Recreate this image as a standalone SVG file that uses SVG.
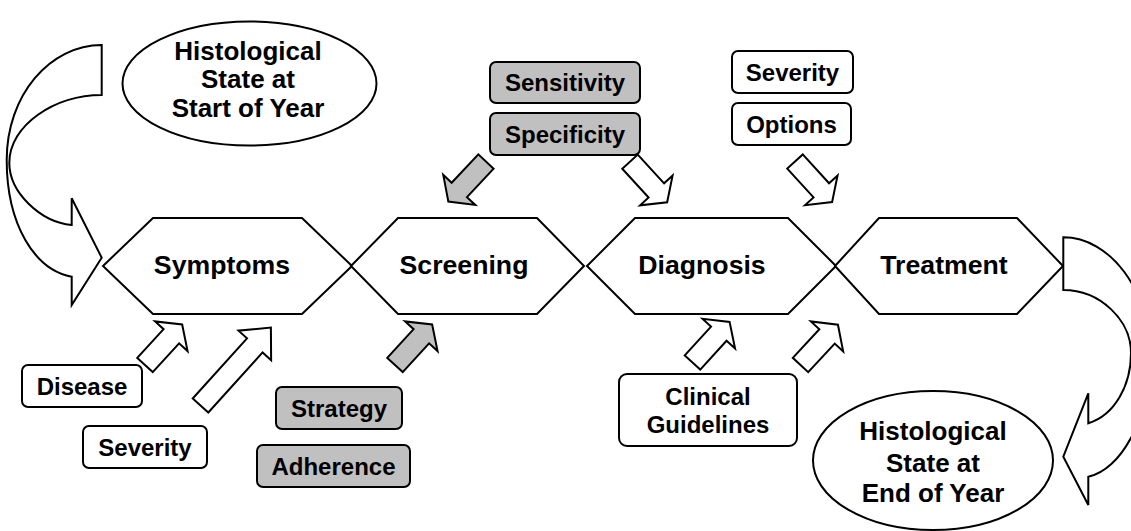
<svg xmlns="http://www.w3.org/2000/svg" xmlns:xlink="http://www.w3.org/1999/xlink" width="1131" height="531" viewBox="0 0 1131 531">
<style>
.ln{stroke:#000;stroke-width:2;stroke-linejoin:miter;}
.w{fill:#fff;}
.g{fill:#c0c0c0;}
.box{stroke:#000;stroke-width:2;}
.t{font-family:"Liberation Sans",Arial,sans-serif;font-weight:bold;text-anchor:middle;fill:#000;}
.s{font-size:24px;}
.b{font-size:26.67px;}
.e{font-size:26px;}
</style>
<defs>
<polygon id="ba" points="0,-10.5 39,-10.5 39,-22 55,0 39,22 39,10.5 0,10.5"/>
</defs>
<rect x="0" y="0" width="1131" height="531" fill="#fff"/>

<g id="hex-symptoms">
<polygon class="ln w" points="103,266 153,218 302,218 352,266 302,314 153,314"/>
<text class="t b" x="222" y="274">Symptoms</text>
</g>
<g id="hex-screening">
<polygon class="ln w" points="351,266 398,218 537,218 584,266 537,314 398,314"/>
<text class="t b" x="464" y="274">Screening</text>
</g>
<g id="hex-diagnosis">
<polygon class="ln w" points="587,266 635,218 788,218 836,266 788,314 635,314"/>
<text class="t b" x="702" y="274">Diagnosis</text>
</g>
<g id="hex-treatment">
<polygon class="ln w" points="835,266 879,218 1017,218 1063,266 1017,314 879,314"/>
<text class="t b" x="944" y="274">Treatment</text>
</g>

<g id="start-state">
<ellipse class="ln w" cx="249.5" cy="83.5" rx="127" ry="62"/>
<text class="t e" x="248" y="59.5">Histological</text>
<text class="t e" x="248" y="88">State at</text>
<text class="t e" x="248" y="116.5">Start of Year</text>
</g>
<g id="end-state">
<ellipse class="ln w" cx="933" cy="460.5" rx="120" ry="69.5"/>
<text class="t e" x="933" y="440">Histological</text>
<text class="t e" x="933" y="471.5">State at</text>
<text class="t e" x="933" y="502">End of Year</text>
</g>

<g id="sensitivity">
<rect class="box g" x="490" y="62" width="150" height="41" rx="6"/>
<text class="t s" x="565" y="91">Sensitivity</text>
</g>
<g id="specificity">
<rect class="box g" x="490" y="113" width="150" height="42" rx="6"/>
<text class="t s" x="565" y="142.5">Specificity</text>
</g>
<g id="severity-top">
<rect class="box w" x="732" y="51" width="121" height="42" rx="6"/>
<text class="t s" x="792.5" y="80.5">Severity</text>
</g>
<g id="options">
<rect class="box w" x="732" y="103" width="119" height="42" rx="6"/>
<text class="t s" x="791.5" y="132.5">Options</text>
</g>
<g id="disease">
<rect class="box w" x="22" y="365" width="120" height="42" rx="6"/>
<text class="t s" x="82" y="394.5">Disease</text>
</g>
<g id="severity-bottom">
<rect class="box w" x="83" y="426" width="124" height="42" rx="6"/>
<text class="t s" x="145" y="455.5">Severity</text>
</g>
<g id="strategy">
<rect class="box g" x="276" y="387" width="126" height="42" rx="6"/>
<text class="t s" x="339" y="417">Strategy</text>
</g>
<g id="adherence">
<rect class="box g" x="257" y="445" width="153" height="42" rx="6"/>
<text class="t s" x="333.5" y="475">Adherence</text>
</g>
<g id="clinical-guidelines">
<rect class="box w" x="619" y="374" width="178" height="72" rx="8"/>
<text class="t s" x="708" y="405">Clinical</text>
<text class="t s" x="708" y="433">Guidelines</text>
</g>

<g id="connectors">
<path class="ln w" d="M101.7,95 C55,95 9.3,125 9.3,163 C9.3,192 40,222 71.7,225 L71.7,198.3 L101.7,257.7 L71.7,305 L71.7,276.7 C35,270 6.7,225 6.7,160 C6.7,95 50,45 101.7,45 Z"/>
<path class="ln w" d="M1063.3,237.3 C1110,237.3 1150,290 1150,355 C1150,420 1120,470 1088.3,476.7 L1088.3,505 L1063.3,456.7 L1088.3,393.3 L1088.3,423.3 C1115,415 1131,385 1131,353 C1131,320 1100,290 1063.3,290 Z"/>
<use xlink:href="#ba" class="ln g" transform="translate(486,161.5) rotate(133.2)"/>
<use xlink:href="#ba" class="ln w" transform="translate(630,161.7) rotate(47.5)"/>
<use xlink:href="#ba" class="ln w" transform="translate(795,161.5) rotate(47.6)"/>
<use xlink:href="#ba" class="ln w" transform="translate(145,365) rotate(-47.5)"/>
<polygon class="ln w" points="0,-10.5 81,-10.5 81,-22 105,0 81,22 81,10.5 0,10.5" transform="translate(200.5,405.5) rotate(-47.9)"/>
<use xlink:href="#ba" class="ln g" transform="translate(395,365) rotate(-47.5)"/>
<use xlink:href="#ba" class="ln w" transform="translate(692.5,362.5) rotate(-47.6)"/>
<use xlink:href="#ba" class="ln w" transform="translate(800.5,365) rotate(-47.1)"/>
</g>
</svg>
